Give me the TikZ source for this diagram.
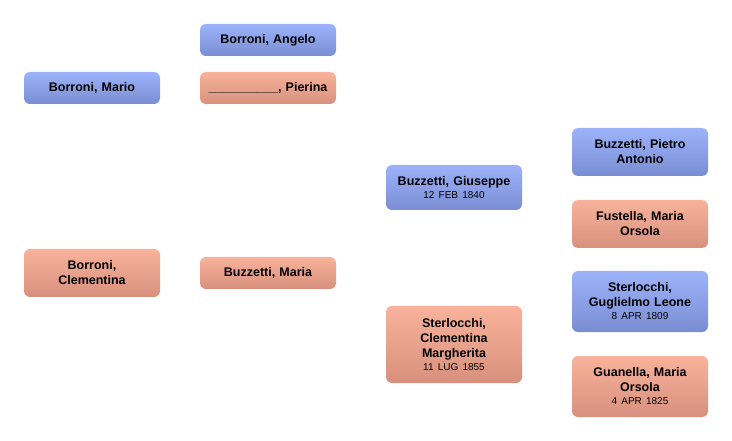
\documentclass[tikz,border=0pt]{standalone}
\usepackage{fontspec}
\setmainfont{Liberation Sans}
\definecolor{btop}{HTML}{9CB3FA}
\definecolor{bbot}{HTML}{7A8DD2}
\definecolor{stop}{HTML}{F9B39C}
\definecolor{sbot}{HTML}{D6907D}
\tikzset{
  person/.style={rounded corners=6pt, minimum width=136pt, text width=130pt, align=center, inner sep=0pt,
    font=\bfseries\fontsize{12.5}{15}\selectfont, text=black},
  male/.style={person, top color=btop, bottom color=bbot},
  female/.style={person, top color=stop, bottom color=sbot},
}
\newcommand{\pdate}[1]{\\[-2pt]{\mdseries\fontsize{10}{12}\selectfont #1}}
\begin{document}
\begin{tikzpicture}[x=1pt,y=1pt]
\useasboundingbox (0,0) rectangle (732,-441);
\node[male, minimum height=32pt] (mario) at (92,-88) {Borroni, Mario};
\node[female, minimum height=48pt] (clementina) at (92,-273) {Borroni,\\Clementina};
\node[male, minimum height=32pt] (angelo) at (268,-40) {Borroni, Angelo};
\node[female, minimum height=32pt] (pierina) at (268,-88) {\_\_\_\_\_\_\_\_\_\_, Pierina};
\node[female, minimum height=32pt] (maria) at (268,-273) {Buzzetti, Maria};
\node[male, minimum height=45pt] (giuseppe) at (454,-187.5) {Buzzetti, Giuseppe\pdate{12 FEB 1840}};
\node[female, minimum height=77pt] (clmarg) at (454,-344.5) {Sterlocchi,\\Clementina\\Margherita\pdate{11 LUG 1855}};
\node[male, minimum height=48pt] (pietro) at (640,-152) {Buzzetti, Pietro\\Antonio};
\node[female, minimum height=48pt] (fustella) at (640,-224) {Fustella, Maria\\Orsola};
\node[male, minimum height=61pt] (guglielmo) at (640,-301.5) {Sterlocchi,\\Guglielmo Leone\pdate{8 APR 1809}};
\node[female, minimum height=61pt] (guanella) at (640,-386.5) {Guanella, Maria\\Orsola\pdate{4 APR 1825}};
\end{tikzpicture}
\end{document}
